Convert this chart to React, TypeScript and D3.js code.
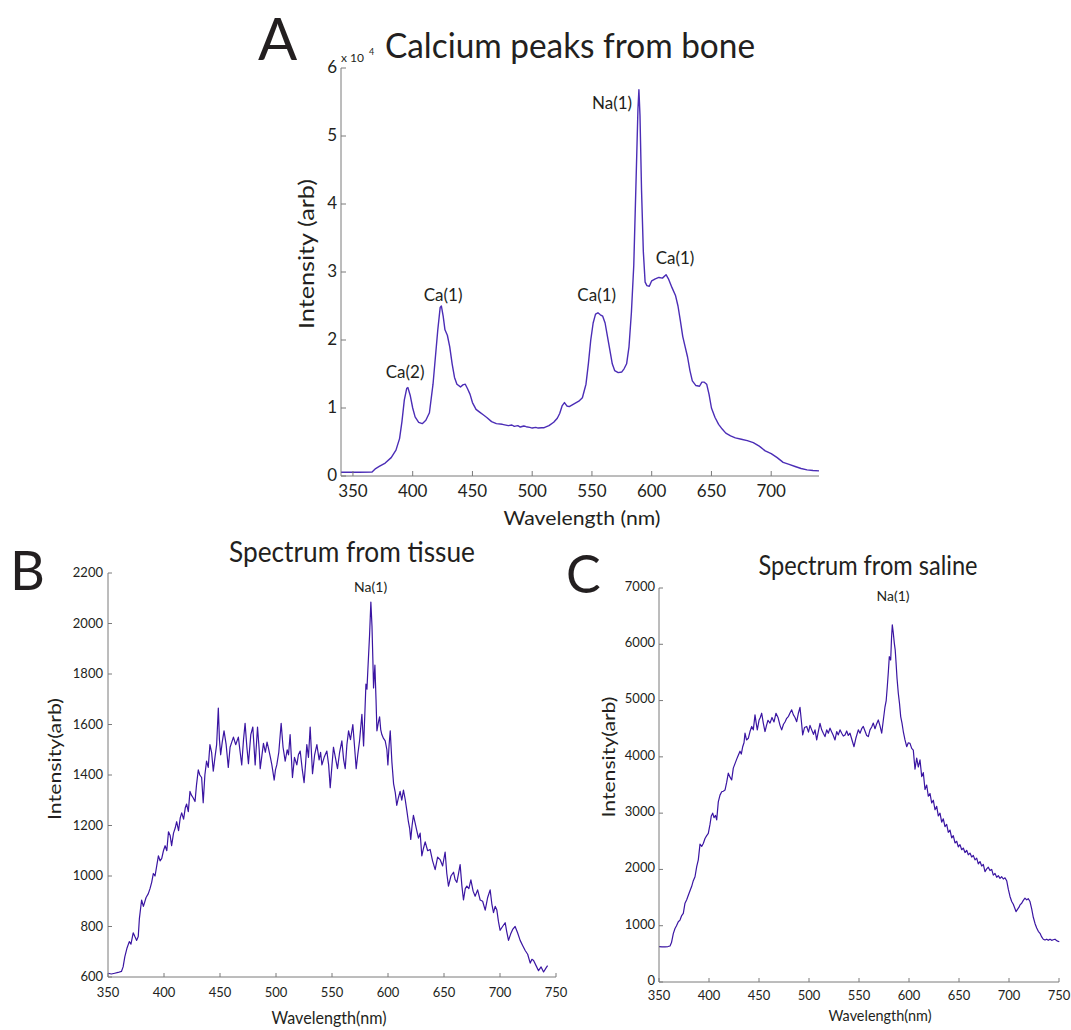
import React from "react";
import * as d3 from "d3";

// ---------- Panel A: Calcium peaks from bone ----------
const wlA = [340, 355, 366, 369, 372, 377, 382, 386, 389, 391, 393, 395, 396, 398, 400, 402, 405, 408, 411, 414, 417, 419, 421, 423, 424, 425.5, 427, 429, 431, 433, 435, 437, 440, 442, 444, 446, 448, 450, 453, 456, 459, 462, 466, 470, 475, 480, 483, 485, 488, 490, 493, 495, 498, 500, 503, 505, 508, 510, 514, 518, 521, 523, 525, 527, 529, 531, 535, 539, 542, 545, 547, 549, 551, 553, 555, 557, 559, 561, 563, 565, 567, 569, 572, 575, 577, 579, 581, 583, 585, 587, 588.5, 589.3, 590.2, 591.5, 593, 594.5, 596, 598, 600, 603, 606, 609, 612, 614, 617, 620, 622, 624, 626, 628, 630, 632, 634, 637, 640, 642, 644, 646, 648, 650, 653, 656, 659, 662, 666, 670, 675, 680, 685, 690, 695, 700, 705, 710, 715, 720, 725, 730, 735, 740];
const intA = [550, 560, 580, 1100, 1400, 1900, 2700, 3800, 5500, 8000, 11200, 12900, 13000, 11800, 10000, 8700, 7900, 7700, 8200, 9300, 13500, 17500, 21500, 24800, 25000, 23500, 21500, 20700, 19000, 16500, 14500, 13500, 13100, 13400, 13500, 12800, 12000, 10800, 9800, 9400, 9000, 8600, 8000, 7700, 7600, 7400, 7500, 7300, 7400, 7200, 7350, 7250, 7150, 7050, 7150, 7050, 7100, 7100, 7400, 7900, 8500, 9200, 10300, 10800, 10300, 10200, 10600, 11000, 11500, 13500, 16500, 20000, 22500, 23800, 24000, 23700, 23500, 22500, 20500, 18500, 16500, 15500, 15200, 15300, 15800, 16500, 19000, 24000, 31000, 44000, 54000, 56800, 53000, 42000, 33000, 28500, 28000, 27900, 28700, 29000, 29200, 29100, 29600, 29000, 27700, 26500, 25000, 22800, 20500, 19000, 17500, 15500, 14000, 13300, 13200, 13800, 13800, 13500, 12000, 10000, 8600, 7600, 6900, 6300, 5900, 5600, 5400, 5200, 4900, 4400, 3700, 3300, 2700, 2000, 1700, 1400, 1100, 900, 800, 750];
const xTicksA = [350, 400, 450, 500, 550, 600, 650, 700];
const yTicksA = [0, 10000, 20000, 30000, 40000, 50000, 60000];
const peakLabelsA = ["Ca(2)", "Ca(1)", "Ca(1)", "Na(1)", "Ca(1)"];
const peakLabelWlA = [393.6, 425.4, 554, 566.8, 619.5];
const peakLabelIntA = [14400, 25700, 25700, 54000, 31200];

// ---------- Panel B: Spectrum from tissue ----------
const wlB = [350, 353, 356, 359, 362, 363.5, 365, 367, 369, 370.5, 372.5, 374, 375.6, 377, 378, 380, 381.6, 384, 386, 387.5, 389, 390.5, 392, 393.5, 395, 396.5, 398, 399.5, 401, 402.5, 404, 405.5, 406.8, 408.5, 410, 411.3, 413, 414.5, 415.8, 417.5, 419, 420.2, 421.7, 423.2, 424.5, 426, 427.7, 429, 430.6, 432, 433.6, 435, 436.5, 438, 439.5, 441, 442.5, 444, 445.5, 447, 448.5, 449.5, 450.6, 452, 453.6, 455.5, 457.4, 459, 460.5, 462, 464, 466.4, 468, 469.4, 471, 472.4, 474, 475.4, 477.5, 479.3, 481.4, 483.5, 485, 485.9, 487.5, 488.8, 490.5, 492, 493.3, 495, 496.3, 498.4, 499.5, 500.7, 502.5, 504.6, 506.3, 508.2, 510, 511.2, 512.6, 514.7, 516.5, 518.6, 520, 521.6, 523.5, 525.1, 526.5, 527.5, 529, 530.5, 532.6, 534.5, 536.5, 538.5, 539.8, 541, 543, 545.4, 547, 548.4, 550, 551.3, 553, 554.9, 556.8, 558.8, 560.4, 561.8, 563.3, 564.8, 566.5, 568.6, 570, 571.6, 573, 574.6, 576.7, 578.2, 579.3, 580.3, 581.2, 582, 583.5, 584.7, 585.7, 586.5, 587.1, 588.3, 589.3, 590.1, 591.5, 592.5, 593.5, 594.5, 596, 597.5, 599, 599.9, 601, 602, 603.5, 605, 606.5, 607.8, 609.3, 610.8, 612.3, 613.8, 615.3, 616.8, 618.2, 619.3, 620.3, 621.5, 622.7, 624.2, 625.7, 627.2, 628.7, 630.2, 631.7, 633.2, 635.4, 637.6, 639.8, 642.1, 644.3, 646.5, 648.8, 651, 652.5, 654, 656.2, 658.5, 660, 661.5, 663, 664.4, 666, 667.4, 669, 670.4, 672.2, 674, 676, 677.8, 680, 682.3, 684.5, 686.8, 689, 691.2, 692.7, 694.2, 695.7, 697.2, 698.6, 700.1, 702.3, 704.6, 706, 707.6, 709.5, 711.5, 713.5, 715.7, 718, 720.2, 722.5, 724.7, 727, 728.5, 730, 732.2, 734.4, 736.7, 738.9, 741, 742.5];
const intB = [615, 612, 615, 618, 622, 640, 680, 715, 740, 730, 775, 760, 745, 760, 830, 905, 880, 915, 930, 950, 975, 1010, 1000, 1040, 1080, 1060, 1070, 1100, 1120, 1100, 1175, 1160, 1120, 1170, 1190, 1215, 1180, 1230, 1250, 1225, 1270, 1285, 1255, 1335, 1320, 1310, 1295, 1360, 1420, 1400, 1390, 1290, 1400, 1455, 1430, 1520, 1490, 1415, 1470, 1520, 1665, 1540, 1480, 1530, 1575, 1520, 1430, 1510, 1530, 1550, 1520, 1550, 1490, 1440, 1540, 1605, 1510, 1445, 1560, 1590, 1440, 1590, 1500, 1425, 1480, 1525, 1490, 1530, 1505, 1470, 1440, 1380, 1420, 1440, 1490, 1605, 1510, 1455, 1500, 1480, 1560, 1390, 1470, 1440, 1480, 1495, 1420, 1370, 1450, 1520, 1470, 1590, 1405, 1480, 1520, 1460, 1490, 1440, 1470, 1495, 1440, 1350, 1440, 1510, 1470, 1425, 1490, 1535, 1460, 1425, 1520, 1575, 1540, 1600, 1520, 1425, 1480, 1535, 1640, 1515, 1640, 1760, 1740, 1815, 1950, 2085, 1990, 1855, 1745, 1835, 1700, 1575, 1610, 1630, 1580, 1560, 1545, 1535, 1500, 1440, 1520, 1575, 1450, 1365, 1330, 1280, 1310, 1335, 1300, 1340, 1305, 1260, 1215, 1190, 1145, 1200, 1240, 1210, 1180, 1150, 1170, 1080, 1110, 1135, 1100, 1105, 1060, 1025, 1075, 1065, 1040, 1095, 1010, 960, 1000, 1015, 985, 975, 1010, 1045, 960, 905, 950, 960, 950, 985, 940, 920, 945, 905, 900, 865, 915, 945, 890, 855, 880, 865, 820, 785, 800, 815, 780, 745, 770, 790, 800, 775, 745, 725, 705, 690, 655, 670, 665, 645, 625, 640, 620, 635, 645];
const xTicksB = [350, 400, 450, 500, 550, 600, 650, 700, 750];
const yTicksB = [600, 800, 1000, 1200, 1400, 1600, 1800, 2000, 2200];

// ---------- Panel C: Spectrum from saline ----------
const wlC = [350, 353, 356, 359, 361, 362.5, 364.3, 366, 367.5, 369.3, 371, 372.7, 374.3, 376, 377.7, 379.5, 381, 382.7, 384.3, 386, 387.7, 389.3, 391, 392.7, 394.3, 396, 397.7, 399.3, 401, 402.3, 403.7, 405, 406.5, 407.7, 409.3, 411, 412.7, 414.3, 416, 417.7, 419.3, 421, 422.7, 424.3, 426, 427.7, 429.3, 431, 432.3, 433.7, 435, 436, 437.5, 439.3, 441, 442.7, 444.3, 446, 447.2, 448.3, 450, 451.3, 452.7, 454.3, 456, 457.5, 459, 461, 463, 465, 467, 469, 471, 472.7, 474.5, 476, 477.7, 479.5, 481, 482.7, 484.3, 486, 487.7, 489.3, 491, 492.3, 493.7, 495.5, 497.7, 499.5, 501, 502.7, 504.5, 506, 507.7, 509.3, 511, 512.7, 514.3, 516, 517.7, 519.3, 521, 522.7, 524.3, 526, 527.7, 529.3, 531, 532.7, 534.3, 536, 537.7, 539.3, 541, 543, 545, 547, 549.3, 551, 552.7, 554.3, 556, 557.7, 559.3, 561, 562.7, 564.3, 566, 567.7, 569.3, 571, 572.7, 574.3, 576, 577.2, 578.3, 579.3, 580.3, 581.7, 582.5, 583.3, 584.3, 585.3, 586.2, 587, 588, 589.3, 590.5, 591.7, 593, 594.3, 596, 597.7, 599.3, 601, 602.7, 604.3, 606, 607.7, 609.3, 611, 612.7, 614.3, 616, 617.7, 619.3, 621, 622.7, 624.3, 626, 627.7, 629.3, 631, 632.7, 634.3, 636, 637.7, 639.3, 641, 642.7, 644.3, 646, 647.7, 649.3, 651, 652.7, 654.3, 656, 657.7, 659.3, 661, 662.7, 664.3, 666, 667.7, 669.3, 671, 672.7, 674.3, 676, 677.7, 679.3, 681, 682.7, 684.3, 686, 687.7, 689.3, 691, 692.7, 694.3, 696, 697.7, 699.3, 701, 702.7, 704.3, 706, 707, 708.5, 710, 711, 712.7, 714.3, 716, 717.7, 719.3, 721, 722.7, 724.3, 726, 727.7, 729.3, 731, 732.7, 734.3, 736, 737.7, 739.3, 741, 742.7, 744.3, 746, 748, 750.3];
const intC = [630, 625, 625, 630, 640, 700, 860, 950, 1000, 1070, 1100, 1180, 1220, 1400, 1460, 1550, 1620, 1700, 1800, 1870, 2050, 2170, 2450, 2410, 2460, 2550, 2600, 2640, 2800, 2950, 3000, 2920, 2960, 2880, 3200, 3320, 3380, 3390, 3410, 3550, 3710, 3640, 3590, 3800, 3880, 3960, 4030, 4100, 4050, 4180, 4250, 4420, 4300, 4330, 4450, 4540, 4480, 4745, 4600, 4480, 4650, 4700, 4775, 4600, 4450, 4560, 4650, 4600, 4700, 4620, 4775, 4700, 4560, 4480, 4580, 4620, 4685, 4720, 4780, 4835, 4750, 4700, 4625, 4770, 4880, 4650, 4390, 4520, 4540, 4440, 4560, 4480, 4400, 4480, 4300, 4450, 4595, 4480, 4420, 4360, 4480, 4420, 4510, 4440, 4380, 4300, 4450, 4390, 4480, 4420, 4370, 4390, 4460, 4380, 4420, 4300, 4180, 4340, 4480, 4420, 4500, 4540, 4460, 4380, 4360, 4480, 4530, 4600, 4500, 4590, 4655, 4550, 4420, 4650, 4890, 5000, 5250, 5500, 5780, 5720, 6100, 6345, 6200, 6020, 5900, 5690, 5400, 5130, 4950, 4715, 4600, 4450, 4300, 4180, 4250, 4240, 4150, 4120, 3780, 3980, 3820, 3945, 3650, 3720, 3420, 3500, 3300, 3350, 3180, 3230, 3060, 3120, 2950, 3000, 2840, 2900, 2760, 2800, 2660, 2700, 2560, 2600, 2470, 2500, 2400, 2440, 2350, 2380, 2300, 2340, 2260, 2290, 2220, 2250, 2170, 2200, 2100, 2140, 2060, 2090, 1960, 2010, 2040, 1980, 2000, 1900, 1930, 1860, 1890, 1840, 1870, 1830, 1850, 1800, 1650, 1520, 1430, 1380, 1300, 1250, 1290, 1330, 1370, 1400, 1450, 1490, 1460, 1480, 1430, 1300, 1150, 1040, 960, 900, 865, 800, 760, 745, 760, 740, 760, 740, 750, 760, 730, 715];
const xTicksC = [350, 400, 450, 500, 550, 600, 650, 700, 750];
const yTicksC = [0, 1000, 2000, 3000, 4000, 5000, 6000, 7000];

const FONT = "Lato, 'Open Sans', sans-serif";
const TXT = "#231f20";
const AXIS = "#7a7a7a";

type PanelProps = {
  wl: number[];
  vals: number[];
  xDomain: [number, number];
  yDomain: [number, number];
  box: { l: number; r: number; t: number; b: number };
  xTicks: number[];
  yTicks: number[];
  yFmt: (v: number) => string;
  tickFont: number;
  xLabY: number;
  yLabX: number;
  yLabDy: string;
  color: string;
  lw: number;
  tickLen: number;
};

function Panel(p: PanelProps) {
  const x = d3.scaleLinear().domain(p.xDomain).range([p.box.l, p.box.r]);
  const y = d3.scaleLinear().domain(p.yDomain).range([p.box.b, p.box.t]);
  const pts = p.wl.map((w, i) => [w, p.vals[i]] as [number, number]);
  const line = d3
    .line<[number, number]>()
    .x((d) => x(d[0]))
    .y((d) => y(d[1]));
  return (
    <g>
      <path d={line(pts) || ""} fill="none" stroke={p.color} strokeWidth={p.lw} strokeLinejoin="round" />
      <line x1={p.box.l} x2={p.box.l} y1={p.box.t} y2={p.box.b} stroke={AXIS} strokeWidth={1} />
      <line x1={p.box.l} x2={p.box.r} y1={p.box.b} y2={p.box.b} stroke={AXIS} strokeWidth={1} />
      {p.xTicks.map((t) => (
        <g key={"x" + t}>
          <line x1={x(t)} x2={x(t)} y1={p.box.b} y2={p.box.b - p.tickLen} stroke={AXIS} strokeWidth={1} />
          <text x={x(t)} y={p.xLabY} textAnchor="middle" fontSize={p.tickFont} fill={TXT} fontFamily={FONT}>
            {t}
          </text>
        </g>
      ))}
      {p.yTicks.map((t) => (
        <g key={"y" + t}>
          <line x1={p.box.l} x2={p.box.l + p.tickLen} y1={y(t)} y2={y(t)} stroke={AXIS} strokeWidth={1} />
          <text x={p.yLabX} y={y(t)} dy={p.yLabDy} textAnchor="end" fontSize={p.tickFont} fill={TXT} fontFamily={FONT}>
            {p.yFmt(t)}
          </text>
        </g>
      ))}
    </g>
  );
}

export default function App() {
  const xA = d3.scaleLinear().domain([340, 740]).range([341, 819]);
  const yA = d3.scaleLinear().domain([0, 60000]).range([476, 68]);
  const xB = d3.scaleLinear().domain([350, 750]).range([108, 556]);
  const yB = d3.scaleLinear().domain([600, 2200]).range([977, 573]);
  const xC = d3.scaleLinear().domain([350, 750]).range([659, 1059]);
  const yC = d3.scaleLinear().domain([0, 7000]).range([982, 588]);

  return (
    <svg
      width={1071}
      height={1030}
      style={{ position: "absolute", left: 0, top: 0, background: "#fff" }}
      fontFamily={FONT}
    >
      <rect x={0} y={0} width={1071} height={1030} fill="#fff" />
      {/* Panel A */}
      <text x={258} y={60} fontSize={58} fill={TXT} fontFamily={FONT}>A</text>
      <text x={570} y={58} textAnchor="middle" fontSize={34} fill={TXT} textLength={370} lengthAdjust="spacingAndGlyphs">
        Calcium peaks from bone
      </text>
      <text x={341} y={62} fontSize={12} fill={TXT}>x 10</text>
      <text x={369} y={55} fontSize={9} fill={TXT}>4</text>
      <Panel
        wl={wlA}
        vals={intA}
        xDomain={[340, 740]}
        yDomain={[0, 60000]}
        box={{ l: 341, r: 819, t: 68, b: 476 }}
        xTicks={xTicksA}
        yTicks={yTicksA}
        yFmt={(v) => String(v / 10000)}
        tickFont={17}
        xLabY={497}
        yLabX={337}
        yLabDy="0.32em"
        color="#4b2db6"
        lw={1.4}
        tickLen={5}
      />
      {peakLabelsA.map((s, i) => (
        <text
          key={"pa" + i}
          x={xA(peakLabelWlA[i])}
          y={yA(peakLabelIntA[i])}
          textAnchor="middle"
          fontSize={17}
          fill={TXT}
        >
          {s}
        </text>
      ))}
      <text x={582} y={525} textAnchor="middle" fontSize={20} fill={TXT} textLength={157} lengthAdjust="spacingAndGlyphs">
        Wavelength (nm)
      </text>
      <text
        transform="translate(314,254) rotate(-90)"
        textAnchor="middle"
        fontSize={21}
        fill={TXT}
        textLength={150}
        lengthAdjust="spacingAndGlyphs"
      >
        Intensity (arb)
      </text>

      {/* Panel B */}
      <text x={10} y={590} fontSize={54} fill={TXT}>B</text>
      <text x={352} y={562} textAnchor="middle" fontSize={28} fill={TXT} textLength={246} lengthAdjust="spacingAndGlyphs">
        Spectrum from tissue
      </text>
      <Panel
        wl={wlB}
        vals={intB}
        xDomain={[350, 750]}
        yDomain={[600, 2200]}
        box={{ l: 108, r: 556, t: 573, b: 977 }}
        xTicks={xTicksB}
        yTicks={yTicksB}
        yFmt={(v) => String(v)}
        tickFont={13}
        xLabY={997}
        yLabX={103}
        yLabDy="0.32em"
        color="#3a15a2"
        lw={1.2}
        tickLen={4}
      />
      <text x={xB(584.5)} y={yB(2130) + 1} textAnchor="middle" fontSize={14} fill={TXT}>Na(1)</text>
      <text x={329} y={1024} textAnchor="middle" fontSize={17} fill={TXT} textLength={115} lengthAdjust="spacingAndGlyphs">
        Wavelength(nm)
      </text>
      <text
        transform="translate(61,759) rotate(-90)"
        textAnchor="middle"
        fontSize={17}
        fill={TXT}
        textLength={122}
        lengthAdjust="spacingAndGlyphs"
      >
        Intensity(arb)
      </text>

      {/* Panel C */}
      <text x={566} y={593} fontSize={52} fill={TXT}>C</text>
      <text x={868} y={575} textAnchor="middle" fontSize={26} fill={TXT} textLength={219} lengthAdjust="spacingAndGlyphs">
        Spectrum from saline
      </text>
      <Panel
        wl={wlC}
        vals={intC}
        xDomain={[350, 750]}
        yDomain={[0, 7000]}
        box={{ l: 659, r: 1059, t: 588, b: 982 }}
        xTicks={xTicksC}
        yTicks={yTicksC}
        yFmt={(v) => String(v)}
        tickFont={13}
        xLabY={1000}
        yLabX={655}
        yLabDy="0.22em"
        color="#3a15a2"
        lw={1.2}
        tickLen={4}
      />
      <text x={xC(584)} y={yC(6770)} textAnchor="middle" fontSize={14} fill={TXT}>Na(1)</text>
      <text x={880} y={1021} textAnchor="middle" fontSize={16} fill={TXT} textLength={103} lengthAdjust="spacingAndGlyphs">
        Wavelength(nm)
      </text>
      <text
        transform="translate(615,757) rotate(-90)"
        textAnchor="middle"
        fontSize={17}
        fill={TXT}
        textLength={121}
        lengthAdjust="spacingAndGlyphs"
      >
        Intensity(arb)
      </text>
    </svg>
  );
}
